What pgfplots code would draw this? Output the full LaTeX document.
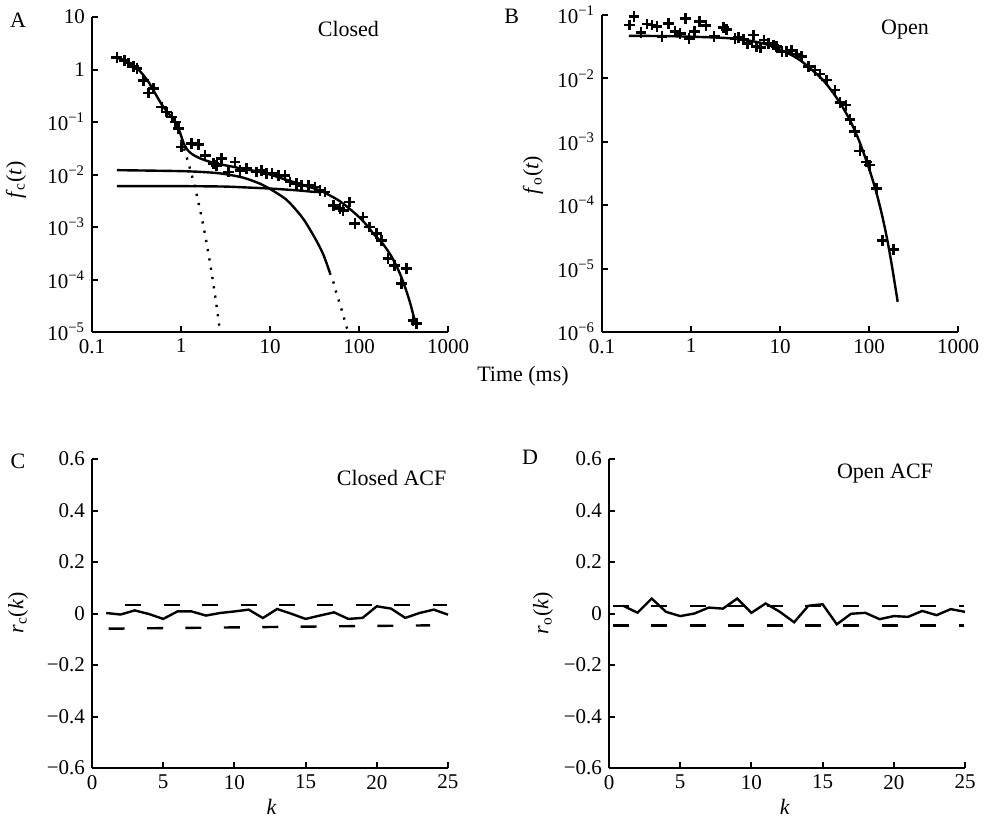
\documentclass[border=0pt]{standalone}
\usepackage{fontspec}
\setmainfont{Liberation Serif}
\usepackage{pgfplots}
\pgfplotsset{compat=1.18}
\pgfplotsset{
  panel/.style={scale only axis, anchor=south west,
    axis x line=bottom, axis y line=left,
    axis line style={-, line width=1.1pt},
    tick align=inside, major tick length=3pt, minor tick length=0pt,
    every tick/.style={black, line width=1pt},
    tick label style={font=\fontsize{10.5}{12}\selectfont},
    clip=false},
  dat/.style={black, only marks, mark=+, mark size=2.7pt, mark options={line width=1.3pt}},
  fit/.style={black, line width=1.2pt, smooth, no marks},
  acf/.style={black, line width=1.2pt, sharp plot, no marks},
  dsh/.style={black, line width=1.2pt, dash pattern=on 8pt off 11.2pt, no marks},
  dot/.style={black, line width=1.2pt, dash pattern=on 1.1pt off 3.6pt, no marks},
}
\begin{document}
\begin{tikzpicture}
\useasboundingbox (0,0) rectangle (493pt,-410pt);

% ---------------- Panel A ----------------
\begin{axis}[panel, at={(46pt,-166pt)}, width=178pt, height=157.5pt,
  xmode=log, ymode=log, xmin=0.1, xmax=1000, ymin=1e-5, ymax=10,
  xtick={0.1,1,10,100,1000}, xticklabels={0.1,1,10,100,1000},
  ytick={1e-5,1e-4,1e-3,1e-2,1e-1,1,10},
  yticklabels={10\textsuperscript{−5},10\textsuperscript{−4},10\textsuperscript{−3},10\textsuperscript{−2},10\textsuperscript{−1},1,10}]
\addplot[dat] coordinates {(0.19,1.68)(0.231,1.50)(0.258,1.33)(0.293,1.15)(0.32,1.04)(0.38,0.62)(0.432,0.356)(0.492,0.43)(0.61,0.193)(0.69,0.155)(0.789,0.124)(0.86,0.1)(0.94,0.0747)(1.02,0.0334)(1.32,0.0387)(1.57,0.0376)(1.87,0.0232)(2.31,0.0161)(2.52,0.015)(2.87,0.02)(3.41,0.0112)(4.05,0.0173)(4.61,0.012)(5.47,0.0129)(7.08,0.0112)(8.06,0.012)(9.18,0.0104)(10.5,0.0104)(12.4,0.00964)(14.7,0.00964)(16.8,0.0072)(19.9,0.0067)(22.6,0.00622)(26.9,0.00622)(32.0,0.00578)(36.4,0.005)(41.4,0.00464)(51.3,0.00259)(61,0.00223)(66.4,0.00208)(78.8,0.00299)(89.8,0.00116)(111,0.00155)(132,0.001)(157,0.000747)(179,0.000557)(212,0.000249)(252,0.000186)(300,0.000083)(341,0.000161)(405,0.0000167)(441,0.0000144)};
% total fit
\addplot[fit] coordinates {(0.1907,1.68)(0.2365,1.474)(0.2933,1.20)(0.3338,0.993)(0.3797,0.774)(0.4319,0.578)(0.471,0.451)(0.5358,0.308)(0.6095,0.214)(0.6934,0.160)(0.7888,0.121)(0.8981,0.0864)(0.9788,0.0617)(1.0486,0.0435)(1.1233,0.0334)(1.2243,0.0276)(1.3809,0.0235)(1.6406,0.0203)(2.0345,0.0178)(2.5228,0.0161)(3.26,0.0148)(3.88,0.0140)(5,0.0128)(7.7,0.0112)(10,0.0100)(14,0.0083)(18.3,0.0072)(25,0.0061)(36,0.0050)(47,0.0040)(61,0.0031)(79,0.0022)(100,0.00155)(121,0.0011)(150,0.0007)(187,0.00047)(230,0.00028)(264,0.00018)(300,0.00011)(341,0.00006)(375,0.000036)(405,0.000022)(441,0.000013)};
% fast component (dotted)
\addplot[dot] coordinates {(1.0,0.0462)(1.1,0.0285)(1.2,0.01757)(1.3,0.01084)(1.4,0.00669)(1.5,0.00412)(1.6,0.002544)(1.7,0.001569)(1.8,0.000968)(1.9,0.000597)(2.0,0.000368)(2.1,0.000227)(2.2,0.00014)(2.3,0.0000864)(2.4,0.0000533)(2.5,0.0000329)(2.6,0.0000203)(2.7,0.0000125)(2.745,0.00001)};
% middle component
\addplot[fit] coordinates {(0.19,0.0121)(1,0.0116)(2,0.0110)(3,0.0103)(5,0.0087)(7.7,0.0067)(10,0.0053)(12,0.0044)(15,0.0034)(18,0.0025)(24,0.00138)(33,0.00056)(40,0.00029)(47,0.000135)};
\addplot[dot, smooth] coordinates {(47,0.000135)(52,0.000085)(56,0.000054)(61,0.000034)(66,0.000022)(71,0.000014)(76,0.00001)};
% slow component
\addplot[fit] coordinates {(0.19,0.0060)(1,0.0060)(3,0.0059)(5,0.0057)(10,0.0054)(20,0.0050)(30,0.0047)(38,0.0046)};
\end{axis}

% ---------------- Panel B ----------------
\begin{axis}[panel, at={(301pt,-166pt)}, width=178pt, height=158.5pt,
  xmode=log, ymode=log, xmin=0.1, xmax=1000, ymin=1e-6, ymax=1e-1,
  xtick={0.1,1,10,100,1000}, xticklabels={0.1,1,10,100,1000},
  ytick={1e-6,1e-5,1e-4,1e-3,1e-2,1e-1},
  yticklabels={10\textsuperscript{−6},10\textsuperscript{−5},10\textsuperscript{−4},10\textsuperscript{−3},10\textsuperscript{−2},10\textsuperscript{−1}}]
\addplot[dat] coordinates {(0.204,0.0695)(0.229,0.0941)(0.274,0.0532)(0.320,0.0721)(0.364,0.0695)(0.414,0.0655)(0.471,0.0455)(0.560,0.0738)(0.664,0.0546)(0.756,0.0514)(0.861,0.0886)(0.953,0.0428)(1.09,0.0546)(1.24,0.0785)(1.47,0.0679)(1.82,0.0455)(2.31,0.0639)(2.52,0.0594)(3.13,0.0428)(3.41,0.0444)(3.88,0.0413)(4.31,0.0357)(5.02,0.0483)(5.47,0.0316)(6.07,0.0305)(6.62,0.0403)(7.4,0.0357)(8.42,0.0336)(9.18,0.0316)(10.5,0.0264)(11.9,0.0264)(13.5,0.0273)(15.4,0.0242)(17.5,0.022)(20.8,0.0153)(24.7,0.0135)(28.1,0.0117)(33.4,0.00942)(41.4,0.00655)(47.1,0.00413)(55.0,0.00379)(61,0.00225)(69.4,0.00144)(78.8,0.00072)(93.7,0.000483)(102,0.000428)(121,0.000183)(142,0.000028)(187,0.00002)};
\addplot[fit] coordinates {(0.2,0.0470)(0.5,0.0465)(1,0.0455)(2,0.0440)(3,0.0425)(5,0.0385)(7,0.0345)(10,0.0285)(15,0.0215)(20,0.0160)(30,0.0096)(40,0.0058)(50,0.0036)(60,0.0023)(70,0.00145)(80,0.00092)(100,0.00038)(120,0.000165)(140,0.00007)(160,0.000029)(180,0.0000115)(200,0.0000046)(210,0.000003)};
\end{axis}

% ---------------- Panel C ----------------
\begin{axis}[panel, at={(46pt,-384pt)}, width=178pt, height=154.5pt,
  xmin=0, xmax=25, ymin=-0.6, ymax=0.6,
  xtick={0,5,10,15,20,25}, xticklabels={0,5,10,15,20,25},
  ytick={-0.6,-0.4,-0.2,0,0.2,0.4,0.6},
  yticklabels={−0.6,−0.4,−0.2,0,0.2,0.4,0.6}]
\addplot[acf] coordinates {(1,0.002)(2,-0.004)(3,0.012)(4,-0.002)(5,-0.021)(6,0.008)(7,0.008)(8,-0.008)(9,0.002)(10,0.008)(11,0.015)(12,-0.0175)(13,0.0175)(14,-0.001)(15,-0.021)(16,-0.008)(17,0.0045)(18,-0.021)(19,-0.017)(20,0.028)(21,0.019)(22,-0.017)(23,0.002)(24,0.015)(25,-0.0045)};
\addplot[dsh] coordinates {(2.34,0.032)(24.9,0.032)};
\addplot[dsh] coordinates {(1.17,-0.059)(23.75,-0.046)};
\end{axis}

% ---------------- Panel D ----------------
\begin{axis}[panel, at={(304.5pt,-384pt)}, width=178pt, height=154.5pt,
  xmin=0, xmax=25, ymin=-0.6, ymax=0.6,
  xtick={0,5,10,15,20,25}, xticklabels={0,5,10,15,20,25},
  ytick={-0.6,-0.4,-0.2,0,0.2,0.4,0.6},
  yticklabels={−0.6,−0.4,−0.2,0,0.2,0.4,0.6}]
\addplot[acf] coordinates {(1,0.030)(2,0.003)(3,0.058)(4,0.0065)(5,-0.010)(6,0.0)(7,0.023)(8,0.019)(9,0.058)(10,0.0026)(11,0.039)(12,0.0065)(13,-0.034)(14,0.030)(15,0.036)(16,-0.042)(17,-0.001)(18,0.0026)(19,-0.022)(20,-0.010)(21,-0.013)(22,0.010)(23,-0.0065)(24,0.017)(25,0.0065)};
\addplot[dsh] coordinates {(0.28,0.030)(24.9,0.030)};
\addplot[dsh] coordinates {(0.28,-0.047)(24.9,-0.047)};
\end{axis}

% ---------------- Texts ----------------
\begin{scope}[font=\fontsize{11}{13}\selectfont]
\node at (9pt,-10pt) {A};
\node at (255.8pt,-8pt) {B};
\node at (9pt,-230.8pt) {C};
\node at (265pt,-228.8pt) {D};
\node at (174.2pt,-14.7pt) {Closed};
\node at (452.5pt,-14.7pt) {Open};
\node at (195.8pt,-239.2pt) {Closed ACF};
\node at (442.5pt,-236.7pt) {Open ACF};
\node at (261.5pt,-188pt) {Time (ms)};
\node at (135.8pt,-403.5pt) {\textit{k}};
\node at (392.5pt,-403.5pt) {\textit{k}};
\node[rotate=90] at (8pt,-90pt) {\textit{f}\textsubscript{c}(\textit{t})};
\node[rotate=90] at (266.5pt,-87.5pt) {\textit{f}\textsubscript{o}(\textit{t})};
\node[rotate=90] at (9pt,-306.5pt) {\textit{r}\textsubscript{c}(\textit{k})};
\node[rotate=90] at (271.5pt,-306.5pt) {\textit{r}\textsubscript{o}(\textit{k})};
\end{scope}
\end{tikzpicture}
\end{document}
